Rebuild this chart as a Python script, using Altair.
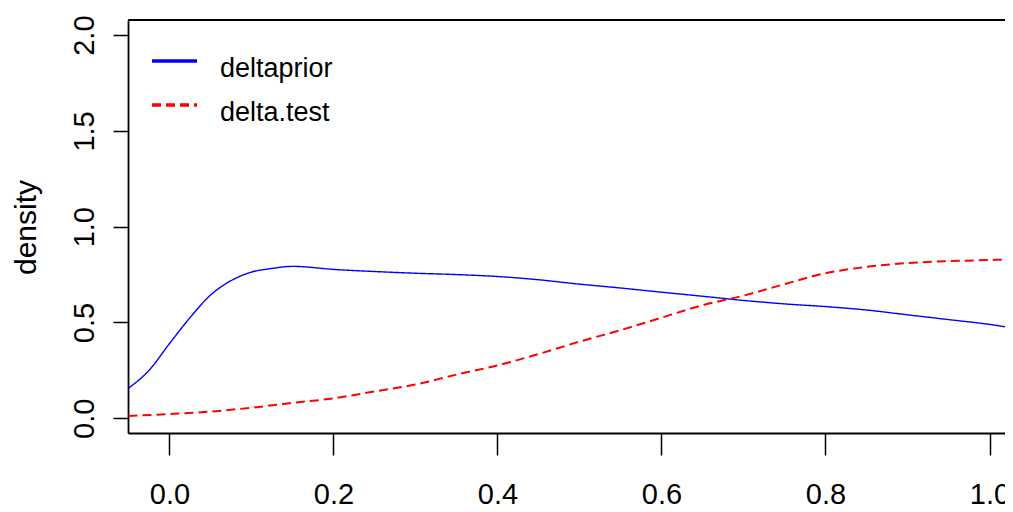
import altair as alt
import pandas as pd

# --- data ---
prior_x = [-0.05, -0.025, 0.0, 0.025, 0.05, 0.075, 0.1, 0.125, 0.15, 0.2, 0.25, 0.3,
           0.35, 0.4, 0.45, 0.5, 0.55, 0.6, 0.65, 0.7, 0.75, 0.8, 0.85, 0.9, 0.95, 1.0, 1.03]
prior_y = [0.157, 0.25, 0.39, 0.525, 0.643, 0.718, 0.763, 0.782, 0.793, 0.777, 0.766, 0.757,
           0.75, 0.74, 0.723, 0.70, 0.68, 0.658, 0.637, 0.615, 0.597, 0.583, 0.565, 0.54, 0.515, 0.49, 0.47]
test_x = [-0.05, 0.0, 0.05, 0.1, 0.15, 0.2, 0.25, 0.3, 0.35, 0.4, 0.45, 0.5, 0.55, 0.6,
          0.65, 0.7, 0.75, 0.8, 0.85, 0.9, 0.95, 1.0, 1.03]
test_y = [0.012, 0.022, 0.035, 0.055, 0.08, 0.104, 0.14, 0.176, 0.228, 0.276, 0.335, 0.40, 0.46, 0.525,
          0.59, 0.64, 0.70, 0.757, 0.79, 0.81, 0.82, 0.826, 0.83]
series = ["deltaprior", "delta.test"]
colors = ["#0000FF", "#FF0000"]
x_ticks = [0.0, 0.2, 0.4, 0.6, 0.8, 1.0]
y_ticks = [0.0, 0.5, 1.0, 1.5, 2.0]

df = pd.concat([
    pd.DataFrame({"x": prior_x, "y": prior_y, "series": series[0], "order": range(len(prior_x))}),
    pd.DataFrame({"x": test_x, "y": test_y, "series": series[1], "order": range(len(test_x))}),
])
legend_df = pd.DataFrame({"series": series})

W, H = 877, 413
FONT = "Liberation Sans, Arial"

xscale = alt.Scale(domain=[-0.0506, 1.0189], nice=False, zero=False)
yscale = alt.Scale(domain=[-0.077, 2.079], nice=False, zero=False)
cscale = alt.Scale(domain=series, range=colors)
dscale = alt.Scale(domain=series, range=[[1, 0], [9, 5]])
legend_rows = alt.Scale(type="point", domain=series, range=[41, 85], padding=0)

lines = alt.Chart(df).mark_line(clip=True, interpolate="monotone").encode(
    x=alt.X("x:Q", scale=xscale, axis=alt.Axis(
        values=x_ticks, format=".1f", title=None, grid=False,
        domainColor="black", domainWidth=1.8, tickColor="black", tickWidth=1.5, tickSize=22,
        labelFont=FONT, labelFontSize=29, labelColor="black", labelPadding=25, labelFlush=False)),
    y=alt.Y("y:Q", scale=yscale, axis=alt.Axis(
        values=y_ticks, format=".1f", title="density", grid=False,
        domainColor="black", domainWidth=1.8, tickColor="black", tickWidth=1.5, tickSize=15,
        labelFont=FONT, labelFontSize=29, labelColor="black", labelAngle=270,
        labelAlign="center", labelBaseline="alphabetic", labelPadding=20, labelFlush=False,
        titleFont=FONT, titleFontSize=30, titleFontWeight="normal", titleColor="black",
        titleAngle=270, titleAlign="center", titleBaseline="alphabetic", titleX=-93, titleY=207)),
    color=alt.Color("series:N", scale=cscale, legend=None),
    strokeDash=alt.StrokeDash("series:N", scale=dscale, legend=None),
    strokeWidth=alt.StrokeWidth("series:N", scale=alt.Scale(domain=series, range=[1.4, 2.0]),
                                legend=None),
    order="order:Q",
)

top = alt.Chart(pd.DataFrame({"a": [0]})).mark_rule(color="black", strokeWidth=1.8).encode(
    y=alt.value(0), x=alt.value(0), x2=alt.value(W))

leg_lines = alt.Chart(legend_df).mark_rule(strokeWidth=3.5).encode(
    x=alt.value(24), x2=alt.value(69),
    y=alt.Y("series:N", scale=legend_rows, axis=None),
    color=alt.Color("series:N", scale=cscale, legend=None),
    strokeDash=alt.StrokeDash("series:N", scale=dscale, legend=None),
)
leg_text = alt.Chart(legend_df).mark_text(
    align="left", baseline="alphabetic", dy=16, font=FONT, fontSize=27, color="black"
).encode(
    x=alt.value(92),
    y=alt.Y("series:N", scale=legend_rows, axis=None),
    text="series:N",
)

chart = alt.layer(lines, top, leg_lines, leg_text).resolve_scale(y="independent").properties(
    width=W, height=H,
    autosize=alt.AutoSizeParams(type="none"),
    padding={"left": 120, "top": 12, "right": 0, "bottom": 76},
).configure_view(stroke=None).configure(background="white")

chart.save("out.html", embed_options={"renderer": "svg", "actions": False})
